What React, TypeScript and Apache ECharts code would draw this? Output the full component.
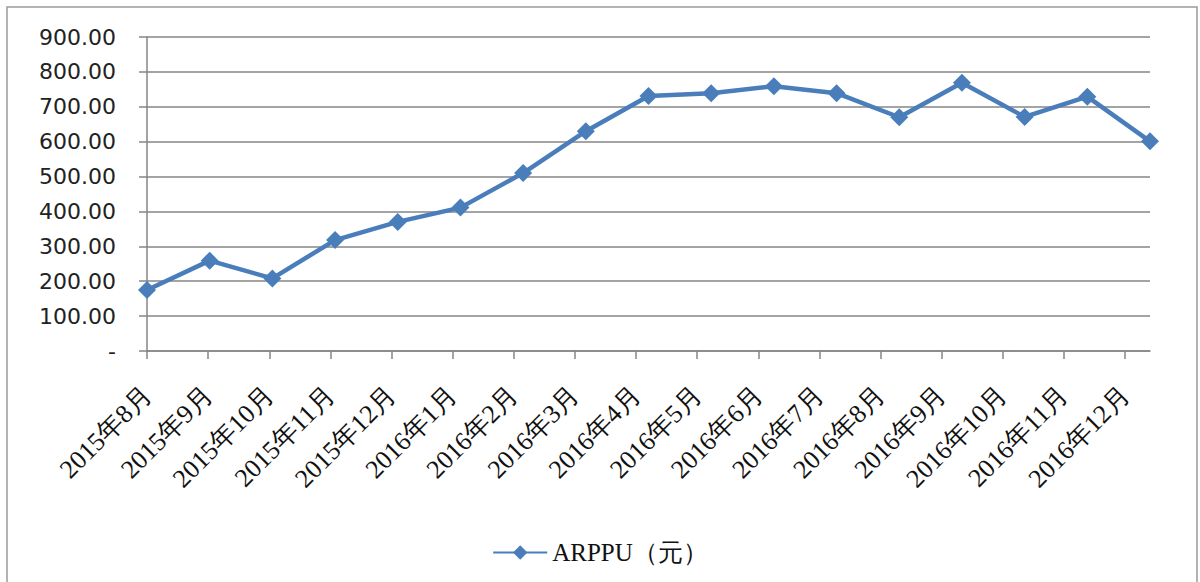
import React, { useEffect, useRef } from "react";
import * as echarts from "echarts";

const categories = [
  "2015年8月", "2015年9月", "2015年10月", "2015年11月", "2015年12月",
  "2016年1月", "2016年2月", "2016年3月", "2016年4月", "2016年5月",
  "2016年6月", "2016年7月", "2016年8月", "2016年9月", "2016年10月",
  "2016年11月", "2016年12月",
];
const arppu = [175, 259, 208, 318, 370, 411, 510, 630, 731, 739, 759, 739, 670, 769, 671, 729, 601];
const seriesName = "ARPPU（元）";
const yMin = 0;
const yMax = 900;
const yStep = 100;

export default function App() {
  const ref = useRef<HTMLDivElement>(null);
  useEffect(() => {
    if (!ref.current) return;
    const chart = echarts.init(ref.current, null, { renderer: "svg" });
    const gray = "#868686";
    chart.setOption({
      animation: false,
      backgroundColor: "#ffffff",
      graphic: [
        {
          type: "rect",
          shape: { x: 7, y: 7, width: 1190, height: 580 },
          style: { fill: "none", stroke: "#9a9a9a", lineWidth: 1.5 },
          silent: true,
        },
      ],
      legend: {
        left: "center",
        top: 535,
        itemWidth: 54,
        itemHeight: 18,
        itemGap: 10,
        textStyle: { fontFamily: "Liberation Serif", fontSize: 25, color: "#111" },
        data: [seriesName],
      },
      grid: [
        { left: 147, right: 50, top: 37, bottom: 231, containLabel: false },
        { left: 147, width: 978, top: 37, bottom: 231, containLabel: false },
      ],
      xAxis: [
        {
          type: "category",
          gridIndex: 0,
          data: categories,
          boundaryGap: false,
          axisLine: { show: true, lineStyle: { color: gray, width: 1.5 } },
          axisTick: { show: false },
          axisLabel: { show: false },
          splitLine: { show: false },
        },
        {
          type: "category",
          gridIndex: 1,
          data: categories,
          boundaryGap: false,
          axisLine: { show: false },
          axisTick: { show: true, length: 8, lineStyle: { color: gray, width: 1.5 } },
          axisLabel: {
            show: true,
            interval: 0,
            rotate: 45,
            margin: 40,
            fontFamily: "Liberation Serif",
            fontSize: 26,
            color: "#111",
          },
          splitLine: { show: false },
        },
      ],
      yAxis: [
        {
          type: "value",
          gridIndex: 0,
          min: yMin,
          max: yMax,
          interval: yStep,
          axisLine: { show: true, lineStyle: { color: gray, width: 1.5 } },
          axisTick: { show: true, length: 8, lineStyle: { color: gray, width: 1.5 } },
          axisLabel: {
            margin: 31,
            fontFamily: "DejaVu Sans",
            fontSize: 22,
            color: "#222",
            formatter: (v: number) => (v === 0 ? "-" : v.toFixed(2)),
          },
          splitLine: { show: true, lineStyle: { color: gray, width: 1.5 } },
        },
        {
          type: "value",
          gridIndex: 1,
          min: yMin,
          max: yMax,
          show: false,
          splitLine: { show: false },
        },
      ],
      series: [
        {
          name: seriesName,
          type: "line",
          xAxisIndex: 0,
          yAxisIndex: 0,
          data: arppu,
          symbol: "diamond",
          symbolSize: 18,
          itemStyle: { color: "#4a7ebb" },
          lineStyle: { color: "#4a7ebb", width: 4.5 },
        },
      ],
    });
    return () => chart.dispose();
  }, []);
  return (
    <div
      ref={ref}
      style={{ position: "fixed", left: 0, top: 0, width: 1200, height: 582 }}
    />
  );
}
